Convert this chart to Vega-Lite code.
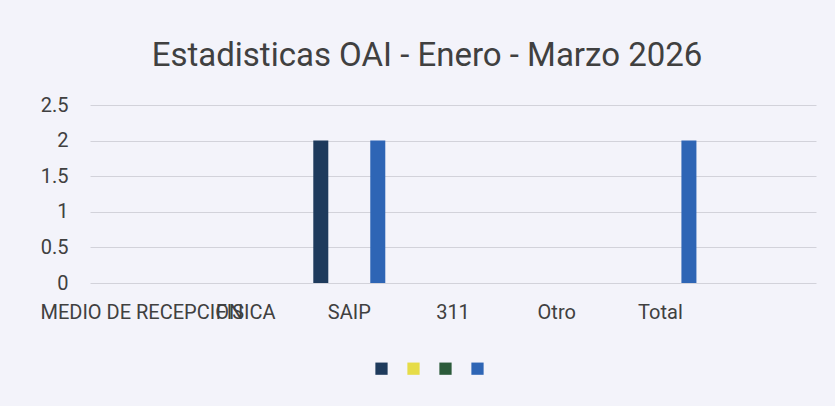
{
  "$schema": "https://vega.github.io/schema/vega-lite/v6.json",
  "autosize": "none",
  "width": 726,
  "height": 178,
  "padding": {"left": 90, "top": 105, "right": 19, "bottom": 123},
  "background": "#f3f3fa",
  "title": {
    "text": "Estadisticas OAI - Enero - Marzo 2026",
    "fontSize": 33,
    "font": "Roboto",
    "fontWeight": "normal",
    "color": "#404040",
    "anchor": "middle",
    "dx": -26,
    "offset": 22
  },
  "data": {
    "values": [
      {"categoria": "MEDIO DE RECEPCION", "serie": "S1", "valor": 0},
      {"categoria": "SAIP", "serie": "S1", "valor": 2},
      {"categoria": "SAIP", "serie": "S2", "valor": 0},
      {"categoria": "SAIP", "serie": "S3", "valor": 0},
      {"categoria": "SAIP", "serie": "S4", "valor": 2},
      {"categoria": "Total", "serie": "S4", "valor": 2}
    ]
  },
  "mark": {"type": "bar"},
  "encoding": {
    "x": {
      "field": "categoria",
      "type": "nominal",
      "sort": null,
      "scale": {
        "domain": ["MEDIO DE RECEPCION", "FISICA", "SAIP", "311", "Otro", "Total", " "],
        "paddingInner": 0,
        "paddingOuter": 0
      },
      "axis": {
        "title": null,
        "labelAngle": 0,
        "labelFontSize": 20,
        "labelFont": "Roboto",
        "labelColor": "#404040",
        "labelPadding": 19,
        "domain": false,
        "ticks": false,
        "labelOverlap": false,
        "labelLimit": 0
      }
    },
    "xOffset": {
      "field": "serie",
      "type": "nominal",
      "scale": {"domain": ["S1", "S2", "S3", "S4"], "paddingInner": 0.21, "paddingOuter": 0.835}
    },
    "y": {
      "field": "valor",
      "type": "quantitative",
      "scale": {"domain": [0, 2.5]},
      "axis": {
        "title": null,
        "values": [0, 0.5, 1, 1.5, 2, 2.5],
        "format": "~g",
        "labelFontSize": 20,
        "labelFont": "Roboto",
        "labelColor": "#404040",
        "labelPadding": 22,
        "domain": false,
        "ticks": false,
        "gridColor": "#d2d2da",
        "gridWidth": 1
      }
    },
    "color": {
      "field": "serie",
      "type": "nominal",
      "scale": {
        "domain": ["S1", "S2", "S3", "S4"],
        "range": ["#1e3a5c", "#e6dc48", "#2b5a3a", "#2e65b5"]
      },
      "legend": {
        "title": null,
        "orient": "none",
        "direction": "horizontal",
        "legendX": 285,
        "legendY": 257,
        "symbolType": "square",
        "symbolSize": 150,
        "symbolStrokeWidth": 0,
        "symbolOpacity": 1,
        "labelExpr": "''",
        "labelOffset": 0,
        "columnPadding": 19
      }
    }
  },
  "config": {
    "view": {"stroke": null}
  }
}
